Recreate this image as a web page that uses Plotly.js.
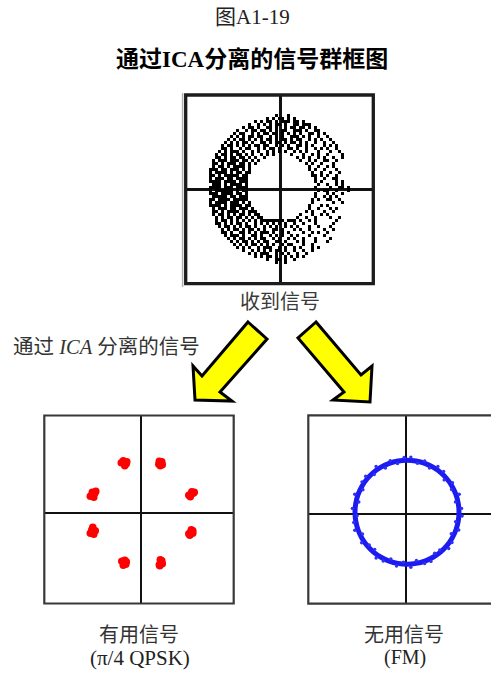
<!DOCTYPE html>
<html>
<head>
<meta charset="utf-8">
<script src="https://cdn.plot.ly/plotly-3.0.1.min.js"></script>
<style>html,body{margin:0;padding:0;background:#fff}</style>
</head>
<body>
<div id="chart" style="width:491px;height:674px"></div>
<script>
// Received mixture: raster of 3 px cells, '#' = sample hit (rows top to bottom, groups of 10 columns)
const recvGrid = [
".......... .......... ...#...#.. .......... ..........",
".......... .......... #.#.##.#.# .......... ..........",
".......... ......#.#. ##.#.###.# #.#....... ..........",
".......... ....#..#.# .#.##.#..# #.###..... ..........",
".......... ..#.##.#.. ##.#..#.## .##.#.#... ..........",
".......... #..#.##.## .#.#.##..# ##.#..##.. ..........",
".........# .##..#.#.# #.##.#.#.# .#..##.#.# ..........",
"........#. #.#.##.##. .#.#.#..## #.#.#..#.. #.........",
".......#.# .##.#.#.#. ##.#.##.#. ##..#.#.#. .#........",
"......#.#. #.##.#..## .#.##.#.## .#.#..#..# ..#.......",
".....#.##. #.#.#.##.# #..#.#.#.. ##.#.#...# .#.#......",
".....##.#. .#.##..#.# .##.#..##. #..#..#.#. #..#......",
"....#.#.## #.#..#.#.. #.#.#.#..# .#.#...#.. .#..#.....",
"...#.##.#. ##.#.#..#. #.#.....#. ..#..#.#.. #....#....",
"...##.#.## .##.#.#..# .......... #.#.#..#.# ..#..#....",
"..#.###.## #.##.#.#.. .......... .#..#.#..# #..#......",
"..##.#.### .##.#.#... .......... ...#.#..#. ..#.......",
"..#.##.#.# ###.#..... .......... ....#..#.. #.#.......",
".###.##.## #.#.#..... .......... ....#.#..# ...#......",
".#.####.#. ##.##..... .......... .....#..#. .#..#.....",
".##.#.#### #.##...... .......... .....##.#. #..#......",
".#.###.##. ####...... .......... ......#..# ..##......",
".####.#### .###...... .......... ......#.#. ...#.#....",
"..###.#.## ##.#...... .......... .......#.. #..#.#....",
".####.###. ####...... .......... ......#... .#..##.#..",
".#.######. #.##...... .......... .......#.# #..#...#..",
".###.####. ##.#...... .......... ......#... #.#..#....",
"..#####.## .###...... .......... ......#..# .#.#......",
".##.####.# ####...... .......... .....#.#.. ##..#.....",
".#.####.## #.#.#..... .......... .....#.... ..#..#....",
".####.#.## ##.##..... .......... ....#...#. #.........",
"..#.###.## .###.#.... .......... ....#..#.. .#.#......",
"..##.#.### #.#.###... .......... ...#.#...# ..#.......",
"..#.##.#.# .##.#.##.. .......... .#...#..#. #.........",
"...#.#.##. ##.#.#.##. .......... #..#..#... .#..#.....",
"...#.##.#. #.#.#.#.## ######.### .#..#.#... ...#......",
"...##.#.#. ##.#..#.#. #.#.#.#..# ..#...#... ..#.......",
"....#.##.# .#.##.#..# .#.#..#.#. #...#..#.. .#........",
".....#.#.# #.#.##.#.# ..##.#...# .#..#....# ..#.......",
".....##.#. .##.#.#.## #.#..#.#.. ..#..#.#.. #.........",
"......#.## #.#..##.#. .#.#.#..#. #...#....# ..........",
".......#.# .##.#.#.## ..#.#..#.# ..#...#... .#........",
"........#. #.##.#.#.# #..##.#... #.#...#... #.........",
".........# .#.#.##.#. #.#..#.##. ..#..#.... ..........",
".......... #.#.#..#.# ##..#.#..# .#...#.#.. ..........",
".......... ..#..#.#.# .#.##.#..# ..#..#.... ..........",
".......... ....#.#.## #..#.#.#.. #..#...... ..........",
".......... ......#.#. ##.#..#.#. #.#....... ..........",
".......... .......... #..##.#..# .......... ..........",
".......... .......... ...#..#... .......... .........."
];
const recvCell = 0.06;

// Useful signal after ICA: pi/4 QPSK symbol clouds (I, Q)
const qpskI = [
  -0.35,-0.40,-0.30,-0.36,-0.33,-0.29,
   0.39, 0.36, 0.42, 0.38, 0.41, 0.35,
   0.99, 1.04, 0.95, 0.98, 1.01, 1.06,
  -0.97,-1.02,-0.93,-0.98,-0.95,-0.91,
  -0.97,-1.02,-0.92,-0.95,-0.99,-0.97,
   0.99, 1.03, 0.95, 1.00, 0.97, 1.03,
  -0.35,-0.39,-0.31,-0.36,-0.33,-0.30,
   0.39, 0.36, 0.41, 0.38, 0.42, 0.37
];
const qpskQ = [
   1.00, 1.01, 0.99, 1.05, 0.95, 1.03,
   1.00, 1.04, 0.97, 0.95, 1.03, 0.98,
   0.38, 0.40, 0.36, 0.33, 0.43, 0.42,
   0.37, 0.34, 0.40, 0.42, 0.32, 0.44,
  -0.38,-0.40,-0.35,-0.42,-0.33,-0.28,
  -0.38,-0.35,-0.41,-0.33,-0.44,-0.40,
  -0.99,-0.96,-1.02,-1.04,-0.94,-0.97,
  -0.99,-1.03,-0.95,-0.93,-1.01,-1.05
];

// Interfering signal after ICA: FM constant-envelope trace (I, Q)
const fmI = [1.06,1.044,0.998,0.921,0.817,0.689,0.54,0.376,0.201,0.02,-0.161,-0.336,-0.50,-0.649,-0.777,-0.881,-0.958,-1.004,-1.02,
             -1.004,-0.958,-0.881,-0.777,-0.649,-0.50,-0.336,-0.161,0.02,0.201,0.376,0.54,0.689,0.817,0.921,0.998,1.044,1.06];
const fmQ = [0.03,0.211,0.386,0.55,0.699,0.827,0.931,1.008,1.054,1.07,1.054,1.008,0.931,0.827,0.699,0.55,0.386,0.211,0.03,
             -0.151,-0.326,-0.49,-0.639,-0.767,-0.871,-0.948,-0.994,-1.01,-0.994,-0.948,-0.871,-0.767,-0.639,-0.49,-0.326,-0.151,0.03];
// stray FM samples on either side of the trace: phase (deg) and envelope
const fmStrayPhase = [4,12,19,27,33,41,48,56,63,71,78,86,93,101,108,116,124,131,139,146,153,161,168,176,
                      184,191,199,206,214,221,229,236,244,251,259,266,274,281,289,296,304,311,319,326,334,341,349,356];
const fmStrayEnv = [1.095,0.99,1.105,1.00,1.085,0.985,1.095,1.105,0.99,1.085,1.00,1.105,1.095,0.99,1.085,0.985,1.105,1.00,1.095,1.085,0.99,1.105,0.985,1.095,
                    1.00,1.085,1.105,0.99,1.095,1.00,0.985,1.105,1.085,0.99,1.095,1.00,1.105,0.985,1.085,1.095,0.99,1.00,1.105,1.085,0.985,1.095,0.99,1.105];
const fmCentre = [0.02, 0.03];

// Labels
const figureNo   = '图A1-19';
const chartTitle = '<b>通过ICA分离的信号群框图</b>';
const recvLabel  = '收到信号';
const icaLabel   = '通过 <i>ICA</i> 分离的信号';
const usefulLabel = '有用信号';
const usefulSub   = '(π/4 QPSK)';
const unwantedLabel = '无用信号';
const unwantedSub   = '(FM)';

// ---- layout helpers (pixel -> paper fraction) ----
const W = 491, H = 674;
const px = x => x / W;
const py = y => 1 - y / H;

// rasterised received constellation as a heatmap
const rows = recvGrid.map(r => r.replace(/ /g, ''));
const zRecv = rows.slice().reverse().map(r => r.split('').map(ch => ch === '#' ? 1 : 0));
const n = rows.length;

// stray samples: polar -> I/Q
const strayI = fmStrayPhase.map((a, i) => fmCentre[0] + fmStrayEnv[i] * Math.cos(a * Math.PI / 180));
const strayQ = fmStrayPhase.map((a, i) => fmCentre[1] + fmStrayEnv[i] * Math.sin(a * Math.PI / 180));

const traces = [
  {
    type: 'heatmap', xaxis: 'x', yaxis: 'y',
    z: zRecv,
    x0: -(n - 1) / 2 * recvCell, dx: recvCell,
    y0: -(n - 1) / 2 * recvCell, dy: recvCell,
    zmin: 0, zmax: 1, zsmooth: false, showscale: false,
    colorscale: [[0, 'rgba(255,255,255,0)'], [1, '#000000']],
    hoverinfo: 'skip'
  },
  {
    type: 'scatter', mode: 'markers', xaxis: 'x2', yaxis: 'y2',
    x: qpskI, y: qpskQ,
    marker: { color: '#ff0000', size: 7.5, line: { width: 0 } },
    hoverinfo: 'skip'
  },
  {
    type: 'scatter', mode: 'lines', xaxis: 'x3', yaxis: 'y3',
    x: fmI, y: fmQ,
    line: { color: '#1c1cf0', width: 5, shape: 'spline' },
    hoverinfo: 'skip'
  },
  {
    type: 'scatter', mode: 'markers', xaxis: 'x3', yaxis: 'y3',
    x: strayI, y: strayQ,
    marker: { color: '#3030f8', size: 3.4, line: { width: 0 } },
    hoverinfo: 'skip'
  }
];

function ax(domain, range, zw) {
  return {
    domain: domain, range: range, fixedrange: true,
    showgrid: false, showticklabels: false, ticks: '', showline: false,
    zeroline: true, zerolinecolor: '#111', zerolinewidth: zw
  };
}

const frameLine = (w, c) => ({ width: w, color: c });
const shapes = [
  // received panel frame
  { type: 'line', xref: 'paper', yref: 'paper', x0: px(182.6), x1: px(182.6), y0: py(93), y1: py(287), line: frameLine(1.5, '#b0b0b0') },
  { type: 'rect', xref: 'paper', yref: 'paper', x0: px(185.7), x1: px(373.3), y0: py(283.7), y1: py(95), line: frameLine(3.3, '#1c1c1c') },
  // useful signal frame
  { type: 'rect', xref: 'paper', yref: 'paper', x0: px(44.3), x1: px(233.7), y0: py(603.5), y1: py(415.5), line: frameLine(2.2, '#383838') },
  // unwanted signal frame (runs off the right edge)
  { type: 'rect', xref: 'paper', yref: 'paper', x0: px(308.3), x1: px(503.7), y0: py(603.7), y1: py(415.3), line: frameLine(2.2, '#383838') }
];

// block arrows from the received panel to the two separated panels
function arrowPath(pts) {
  return 'M ' + pts.map(p => px(p[0]).toFixed(5) + ' ' + py(p[1]).toFixed(5)).join(' L ') + ' Z';
}
const leftArrow  = [[248, 322], [267, 339], [220, 392], [232, 401], [195, 400], [193, 366], [202, 376]];
const rightArrow = [[316, 322], [298, 338], [344, 392], [333, 400], [370, 402], [372, 366], [361, 375]];
[leftArrow, rightArrow].forEach(a => shapes.push({
  type: 'path', xref: 'paper', yref: 'paper', path: arrowPath(a),
  fillcolor: '#ffff00', line: { color: '#000', width: 3 }, layer: 'above'
}));

const FONT = '"Liberation Serif", "Times New Roman", "Noto Sans CJK SC", serif';
function label(text, x, y, size, color, anchor) {
  return {
    text: text, xref: 'paper', yref: 'paper', x: px(x), y: py(y),
    xanchor: anchor || 'center', yanchor: 'middle', showarrow: false,
    font: { family: FONT, size: size, color: color }
  };
}

const layout = {
  width: W, height: H,
  margin: { l: 0, r: 0, t: 0, b: 0 },
  paper_bgcolor: '#ffffff', plot_bgcolor: 'rgba(0,0,0,0)',
  showlegend: false,
  xaxis:  ax([px(185.7), px(373.3)], [-1.90, 1.852], 3),
  yaxis:  ax([py(283.7), py(95)],    [-1.894, 1.88], 3),
  xaxis2: ax([px(44.3), px(233.7)],  [-1.94, 1.848], 1.8),
  yaxis2: ax([py(603.5), py(415.5)], [-1.804, 1.956], 1.8),
  xaxis3: ax([px(308.3), 1],         [-1.954, 1.70], 1.8),
  yaxis3: ax([py(603.7), py(415.3)], [-1.80, 1.968], 1.8),
  shapes: shapes,
  annotations: [
    label(figureNo, 253, 17, 21, '#222'),
    label(chartTitle, 252, 59, 23, '#000'),
    label(recvLabel, 280, 302, 20, '#3a3a3a'),
    label(icaLabel, 11, 347, 20.5, '#333', 'left'),
    label(usefulLabel, 139, 635, 20, '#333'),
    label(usefulSub, 139.5, 658, 21, '#222'),
    label(unwantedLabel, 404, 635, 20, '#333'),
    label(unwantedSub, 405, 657, 20, '#222')
  ]
};
layout.xaxis.anchor = 'y';  layout.yaxis.anchor = 'x';
layout.xaxis2.anchor = 'y2'; layout.yaxis2.anchor = 'x2';
layout.xaxis3.anchor = 'y3'; layout.yaxis3.anchor = 'x3';

Plotly.newPlot('chart', traces, layout, { displayModeBar: false, staticPlot: true });
</script>
</body>
</html>
